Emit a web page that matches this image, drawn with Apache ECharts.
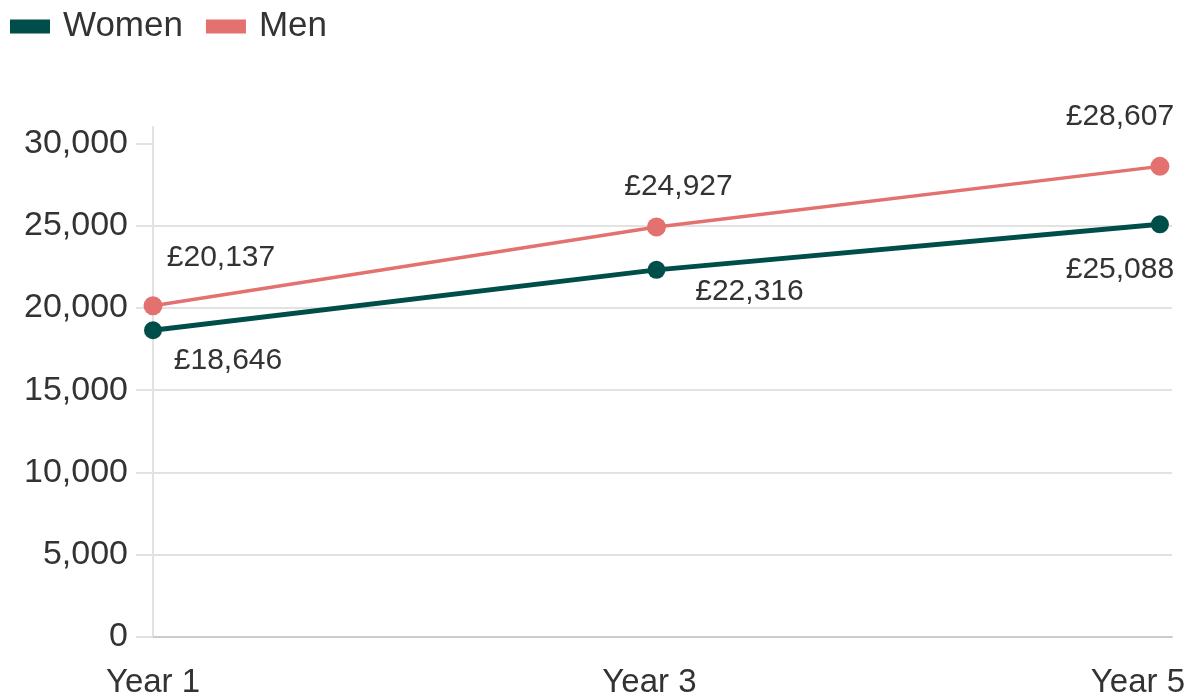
<!DOCTYPE html>
<html>
<head>
<meta charset="utf-8">
<script src="https://cdn.jsdelivr.net/npm/echarts@6/dist/echarts.min.js"></script>
<style>
  html, body { margin: 0; padding: 0; background: #ffffff; }
  #chart { width: 1193px; height: 696px; }
</style>
</head>
<body>
<div id="chart"></div>
<script>
// Survey years and their position on the horizontal scale
const categories = ['Year 1', 'Year 3', 'Year 5'];
const yearIndex = [1, 3, 5];

// Median earnings (£)
const women = [18646, 22316, 25088];
const men = [20137, 24927, 28607];

// Value-axis ticks
const yTicks = [0, 5000, 10000, 15000, 20000, 25000, 30000];

const FONT = '"Liberation Sans", Arial, Helvetica, sans-serif';
const TEXT = '#333333';
const GRID = '#e2e2e2';

// Per-point label placement around each marker
const womenLabelOffsets = [[75, 30], [93, 22], [-40, 45]];
const menLabelOffsets = [[68, -48], [22, -40], [-40, -50]];

const fmtMoney = v => '£' + v.toLocaleString('en-GB');
const fmtNum = v => v.toLocaleString('en-GB');

function buildData(values, offsets) {
  return values.map((v, i) => ({
    value: [yearIndex[i], v],
    label: { offset: offsets[i] }
  }));
}

const chart = echarts.init(document.getElementById('chart'), null, { renderer: 'canvas' });

chart.setOption({
  animation: false,
  backgroundColor: '#ffffff',
  textStyle: { fontFamily: FONT },
  legend: {
    left: 5,
    top: 4,
    icon: 'rect',
    itemWidth: 40,
    itemHeight: 14,
    itemGap: 23,
    textStyle: { fontFamily: FONT, fontSize: 35, color: TEXT, padding: [0, 0, 0, 8] },
    data: ['Women', 'Men']
  },
  grid: { left: 153, right: 21, top: 127, bottom: 59, containLabel: false, outerBoundsMode: 'none' },
  xAxis: {
    type: 'value',
    min: 1,
    max: 5.048,
    axisLine: { show: true, lineStyle: { color: '#cccccc', width: 2 } },
    axisTick: { show: false },
    splitLine: { show: false },
    axisLabel: {
      customValues: yearIndex,
      margin: 29,
      fontFamily: FONT,
      fontSize: 33,
      color: TEXT,
      formatter: v => {
        const i = yearIndex.indexOf(v);
        if (i < 0) return '';
        if (i === 1) return '{mid|' + categories[i] + '}';
        if (i === yearIndex.length - 1) return '{last|' + categories[i] + '}';
        return categories[i];
      },
      rich: {
        mid: { fontFamily: FONT, fontSize: 33, color: TEXT, padding: [0, 14, 0, 0] },
        last: { fontFamily: FONT, fontSize: 33, color: TEXT, padding: [0, 44, 0, 0] }
      }
    }
  },
  yAxis: {
    type: 'value',
    min: 0,
    max: 31000,
    interval: 5000,
    axisLine: { show: true, lineStyle: { color: GRID, width: 2 } },
    axisTick: { show: true, customValues: yTicks, length: 17, lineStyle: { color: GRID, width: 2 } },
    splitLine: { show: true, showMaxLine: false, lineStyle: { color: GRID, width: 2 } },
    axisLabel: {
      customValues: yTicks,
      margin: 25,
      fontFamily: FONT,
      fontSize: 34,
      color: TEXT,
      formatter: fmtNum
    }
  },
  series: [
    {
      name: 'Women',
      type: 'line',
      data: buildData(women, womenLabelOffsets),
      symbol: 'circle',
      symbolSize: 18,
      z: 3,
      itemStyle: { color: '#004e49' },
      lineStyle: { color: '#004e49', width: 5 },
      label: {
        show: true,
        position: 'inside',
        fontFamily: FONT,
        fontSize: 30,
        color: TEXT,
        formatter: p => fmtMoney(p.value[1])
      }
    },
    {
      name: 'Men',
      type: 'line',
      data: buildData(men, menLabelOffsets),
      symbol: 'circle',
      symbolSize: 19,
      z: 2,
      itemStyle: { color: '#e3716f' },
      lineStyle: { color: '#e3716f', width: 3.5 },
      label: {
        show: true,
        position: 'inside',
        fontFamily: FONT,
        fontSize: 30,
        color: TEXT,
        formatter: p => fmtMoney(p.value[1])
      }
    }
  ]
});
</script>
</body>
</html>
